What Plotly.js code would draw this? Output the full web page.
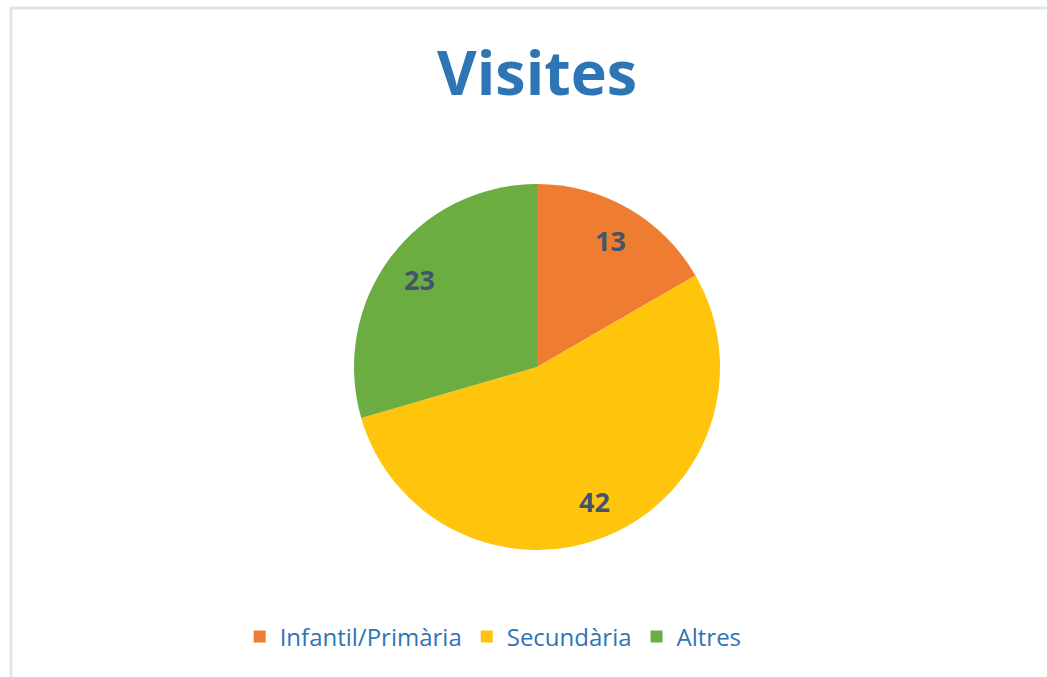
<!DOCTYPE html>
<html>
<head>
<meta charset="utf-8">
<script src="https://cdn.plot.ly/plotly-3.0.1.min.js"></script>
<style>
html,body{margin:0;padding:0;background:#fff;}
#chart{width:1047px;height:677px;}
</style>
</head>
<body>
<div id="chart"></div>
<script>
const categories = ["Infantil/Primària", "Secundària", "Altres"];
const values = [13, 42, 23];
const colors = ["#EF7D31", "#FFC40C", "#6CAD42"];
const titleText = "Visites";

const W = 1047, H = 677;
const cx = 537, cy = 367, r = 183;
const labelFrac = 0.80;

const trace = {
  type: "pie",
  labels: categories,
  values: values,
  sort: false,
  direction: "clockwise",
  rotation: 0,
  marker: {colors: colors, line: {width: 0}},
  textinfo: "none",
  hoverinfo: "label+value",
  domain: {
    x: [(cx - r) / W, (cx + r) / W],
    y: [(H - cy - r) / H, (H - cy + r) / H]
  }
};

// data labels placed along each slice's bisector, derived from the values
const total = values.reduce((a, b) => a + b, 0);
let cum = 0;
const annotations = values.map((v) => {
  const mid = (cum + v / 2) / total * 2 * Math.PI;
  cum += v;
  const px = cx + labelFrac * r * Math.sin(mid);
  const py = cy - labelFrac * r * Math.cos(mid);
  return {
    xref: "paper", yref: "paper",
    x: px / W, y: (H - py) / H,
    xanchor: "center", yanchor: "middle",
    showarrow: false,
    text: "<b>" + v + "</b>",
    font: {family: "Open Sans", size: 27, color: "#44546A"}
  };
});

const layout = {
  width: W, height: H,
  margin: {l: 0, r: 0, t: 0, b: 0},
  paper_bgcolor: "#ffffff",
  title: {
    text: "<b>" + titleText + "</b>",
    font: {family: "Open Sans", size: 61, color: "#2E75B6"},
    x: 0.513, xanchor: "center",
    y: (H - 74) / H, yanchor: "middle", yref: "container"
  },
  showlegend: true,
  legend: {
    orientation: "h",
    x: 0.471, xanchor: "center",
    y: (H - 637) / H, yanchor: "middle",
    font: {family: "Open Sans", size: 24, color: "#2E75B6"},
    itemwidth: 30,
    traceorder: "normal"
  },
  annotations: annotations,
  shapes: [{
    type: "path",
    xref: "paper", yref: "paper",
    path: "M " + (11 / W) + " 0 L " + (11 / W) + " " + ((H - 8) / H) + " L 1 " + ((H - 8) / H),
    line: {color: "#E1E5EC", width: 3}
  }]
};

Plotly.newPlot("chart", [trace], layout, {displayModeBar: false, staticPlot: true});
</script>
</body>
</html>
